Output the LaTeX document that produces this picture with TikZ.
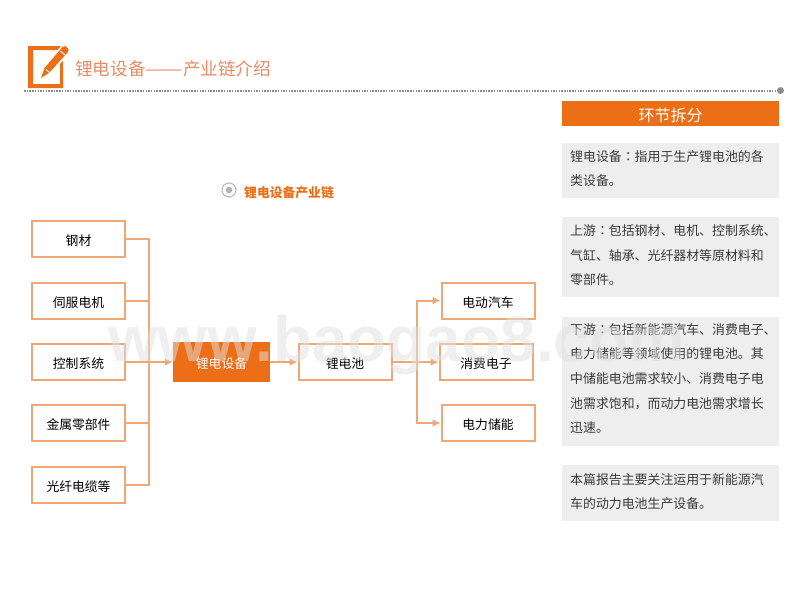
\documentclass[tikz,border=0pt]{standalone}
\usepackage{fontspec}
\usepackage{graphicx}
\usepackage{xcolor}
\setmainfont{Noto Sans CJK SC}
\newfontfamily\wmfont{Liberation Sans}
\newfontfamily\tcfont{Noto Sans CJK TC}
\newcommand{\cln}{{\tcfont ：}}
\usetikzlibrary{arrows.meta,calc}
\definecolor{brand}{HTML}{EC6E17}
\definecolor{lineor}{HTML}{EDA875}
\definecolor{titlec}{HTML}{E98C66}
\definecolor{panel}{HTML}{EEEEEE}
\definecolor{wm}{HTML}{E0E0E0}
\definecolor{dots}{HTML}{8C8C8C}
\definecolor{bodyc}{HTML}{3A3A3A}
\tikzset{
  x=1pt,y=-1pt,
  chainbox/.style={draw=lineor,line width=2pt,fill=white,minimum width=93pt,minimum height=36pt,inner sep=0pt,text height=13pt,text depth=0pt,font=\fontsize{12.8}{15}\selectfont,text=black},
  corebox/.style={fill=brand,minimum width=97pt,minimum height=40pt,inner sep=0pt,text height=13pt,text depth=0pt,font=\fontsize{12.8}{15}\selectfont,text=white},
  conn/.style={draw=lineor,line width=2pt},
  arrowed/.style={conn,-{Latex[length=8pt,width=8pt]}},
  panelbox/.style={fill=panel,minimum width=217pt,inner sep=0pt},
  desc/.style={anchor=west,align=left,inner sep=0pt,text=bodyc,font=\fontsize{12.9}{24.6}\selectfont}
}
\begin{document}
\begin{tikzpicture}
\useasboundingbox (0,0) rectangle (800,600);
\fill[white] (0,0) rectangle (800,600);
% title icon
\fill[brand,even odd rule] (28,46) rectangle (63,88) (33,50) rectangle (60,84);
\draw[white,line width=4pt,line join=round,fill=white] (41,78) -- (44.5,68) -- (62.5,47.5) -- (68,52) -- (49,73) -- cycle;
\fill[brand] (41,78) -- (44.5,68) -- (62.5,47) -- (65.5,46) -- (68.5,49) -- (68,52) -- (49,73) -- cycle;
\draw[white,line width=.9pt] (46,69.5) -- (49.5,72.5);
\draw[white,line width=.9pt] (60.5,51) -- (65,55);
\node[anchor=west,inner sep=0pt,text=titlec,font=\fontsize{17.6}{20}\selectfont] (title) at (75,68.5) {锂电设备\scalebox{1.27}[1]{——}产业链介绍};
\coordinate (ruleA) at (24,90.5);
\node[circle,fill=dots,minimum size=7pt,inner sep=0pt] (ruleB) at (780.5,90.5) {};
\draw[dots,line width=2pt,dash pattern=on 1.5pt off 1.2pt] (ruleA) -- (ruleB);
% right panel
\node[fill=brand,minimum width=217pt,minimum height=25pt,inner sep=0pt,text height=15.5pt,text depth=0pt,text=white,font=\fontsize{16}{18}\selectfont] (head) at (670.5,113.5) {环节拆分};
\node[panelbox,minimum height=55pt] (p1) at (670.5,170.5) {};
\node[panelbox,minimum height=80pt] (p2) at (670.5,257) {};
\node[panelbox,minimum height=129pt] (p3) at (670.5,381.5) {};
\node[panelbox,minimum height=56pt] (p4) at (670.5,493) {};
\node[desc] (t1) at (570,168.5) {锂电设备\cln{}指用于生产锂电池的各\\类设备。};
\node[desc] (t2) at (570,255.5) {上游\cln{}包括钢材、电机、控制系统、\\气缸、轴承、光纤器材等原材料和\\零部件。};
\node[desc] (t3) at (570,378.5) {下游\cln{}包括新能源汽车、消费电子、\\电力储能等领域使用的锂电池。其\\中储能电池需求较小、消费电子电\\池需求饱和，而动力电池需求增长\\迅速。};
\node[desc] (t4) at (570,491.5) {本篇报告主要关注运用于新能源汽\\车的动力电池生产设备。};
% sub-heading
\node[circle,draw=black!25,line width=1.2pt,minimum size=14pt,inner sep=0pt] (dot) at (229,190) {};
\fill[black!30] (dot.center) circle (3.3);
\node[anchor=west,inner sep=0pt,text=brand,font=\fontsize{12.8}{15}\selectfont\bfseries] (sub) at (244,192.5) {锂电设备产业链};
% chain nodes
\node[chainbox] (s1) at (78.5,239) {钢材};
\node[chainbox] (s2) at (78.5,300.5) {伺服电机};
\node[chainbox] (s3) at (78.5,362) {控制系统};
\node[chainbox] (s4) at (78.5,423) {金属零部件};
\node[chainbox] (s5) at (78.5,485) {光纤电缆等};
\node[corebox] (eq) at (221.5,362) {锂电设备};
\node[chainbox] (li) at (345,362) {锂电池};
\node[chainbox] (c1) at (488,300.5) {电动汽车};
\node[chainbox] (c2) at (486,362) {消费电子};
\node[chainbox] (c3) at (488,423) {电力储能};
\coordinate (busL) at (149,362);
\coordinate (busR) at (417,362);
\draw[conn] (s1.east) -| (busL);
\draw[conn] (s2.east) -| (busL);
\draw[conn] (s3.east) -- (busL);
\draw[conn] (s4.east) -| (busL);
\draw[conn] (s5.east) -| (busL);
\draw[arrowed] (busL) -- (eq.west);
\draw[arrowed] (eq.east) -- (li.west);
\draw[conn] (li.east) -- (busR);
\draw[arrowed] (busR) |- (c1.west);
\draw[arrowed] (busR) -- (c2.west);
\draw[arrowed] (busR) |- (c3.west);
% watermark
\node[anchor=base west,inner sep=0pt,text=wm,text opacity=.5,font=\fontsize{64}{70}\selectfont\wmfont\bfseries] (mark) at (108,361) {www.baogao8.com};
\end{tikzpicture}
\end{document}
